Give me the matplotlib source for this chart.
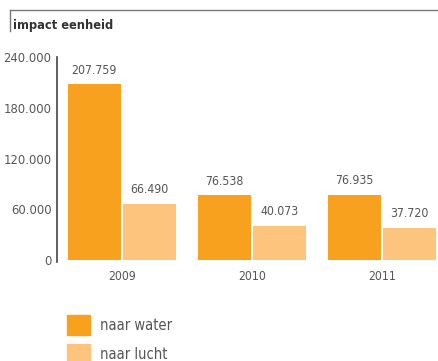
import numpy as np
import matplotlib
matplotlib.use("Agg")
import matplotlib.pyplot as plt
from matplotlib.lines import Line2D
from matplotlib.patches import Patch
from matplotlib.ticker import FuncFormatter

# data
years = ["2009", "2010", "2011"]
naar_water = [207759, 76538, 76935]
naar_lucht = [66490, 40073, 37720]
series_labels = ["naar water", "naar lucht"]
y_ticks = [0, 60000, 120000, 180000, 240000]
title = "impact eenheid"

c_water = "#F7A11F"
c_lucht = "#FDC47D"
c_text = "#555555"

plt.rcParams['font.family'] = ['DejaVu Sans']
plt.rcParams['font.stretch'] = 'condensed'


def dotted(v, pos=None):
    return f"{int(v):,}".replace(",", ".")


fig = plt.figure(figsize=(4.39, 3.61), dpi=100)
ax = fig.add_axes([57 / 439, 101 / 361, 382 / 439, 203 / 361])

x = np.arange(len(years))
w = 0.408
gap = 0.008
b1 = ax.bar(x - w / 2 - gap, naar_water, w, color=c_water)
b2 = ax.bar(x + w / 2 + gap, naar_lucht, w, color=c_lucht)

for bars in (b1, b2):
    for b in bars:
        ax.annotate(dotted(b.get_height()), (b.get_x() + b.get_width() / 2, b.get_height()),
                    xytext=(0, 5.5), textcoords="offset points", ha="center", va="bottom",
                    fontsize=8.8, color=c_text)

ax.set_xlim(-0.5, 2.44)
ax.set_ylim(0, 240000)
ax.set_yticks(y_ticks)
ax.yaxis.set_major_formatter(FuncFormatter(dotted))
ax.set_xticks(x)
ax.set_xticklabels(years)
ax.tick_params(axis="y", length=0, pad=4, labelsize=9.3, labelcolor=c_text)
ax.tick_params(axis="x", length=0, pad=7, labelsize=8.7, labelcolor=c_text)
for s in ("top", "right", "bottom"):
    ax.spines[s].set_visible(False)
ax.spines["left"].set_color("#444444")
ax.spines["left"].set_linewidth(1.2)
ax.spines["left"].set_bounds(-2000, 240000)

# header frame
fig.add_artist(Line2D([10 / 439, 1], [1 - 10 / 361, 1 - 10 / 361], color="#777777", lw=1))
fig.add_artist(Line2D([10 / 439, 10 / 439], [1 - 10 / 361, 1 - 31 / 361], color="#777777", lw=1))
fig.text(13 / 439, 1 - 26 / 361, title, fontsize=9.2, fontweight="bold", color="#333333",
         va="center", ha="left")

handles = [Patch(color=c_water), Patch(color=c_lucht)]
fig.legend(handles, series_labels, loc="upper left", bbox_to_anchor=(55 / 439, 1 - 303 / 361),
           frameon=False, fontsize=10.5, labelcolor=c_text, handlelength=1.6, handleheight=1.8,
           labelspacing=0.6, handletextpad=0.7, borderpad=0.3)

fig.savefig("out.png", dpi=100)
